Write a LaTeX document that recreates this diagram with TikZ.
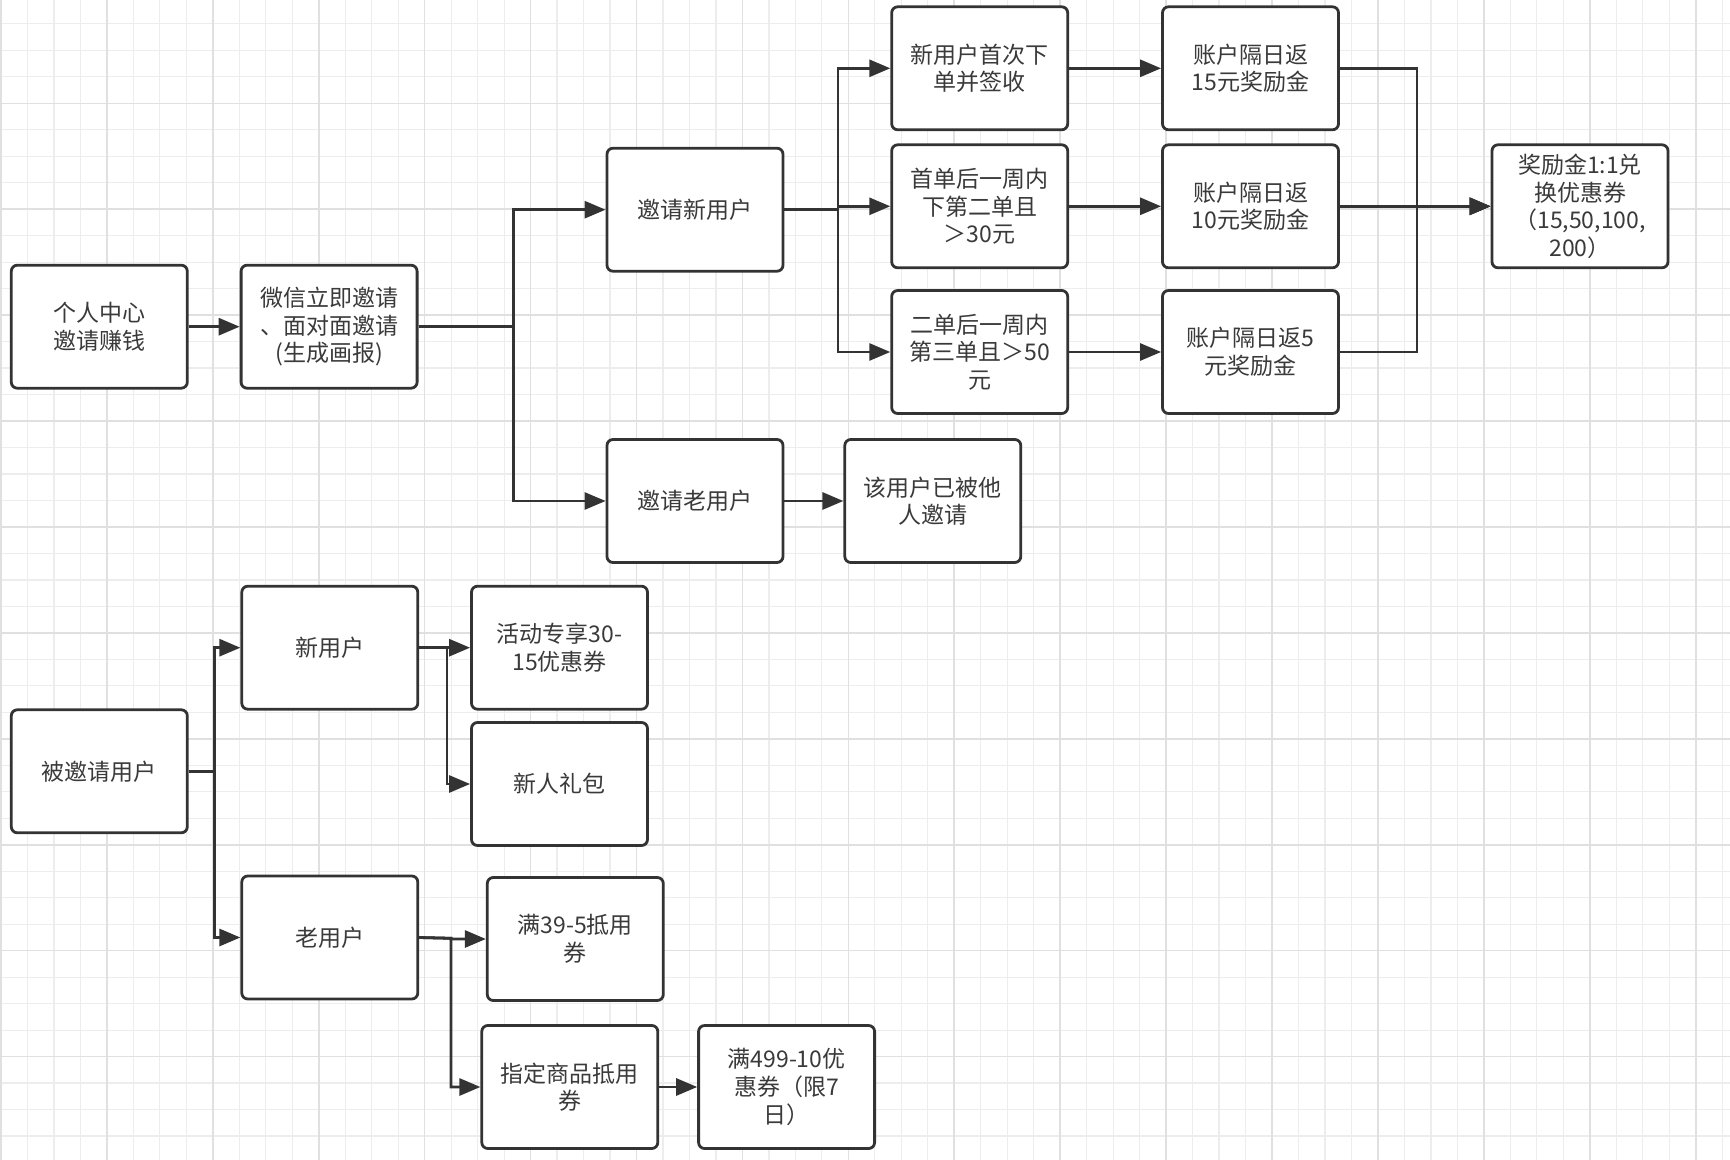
\documentclass[tikz,border=0pt]{standalone}
\usepackage{fontspec}
\setmainfont{Noto Sans CJK SC}
\usepackage{xcolor}
\usepackage{tikz}
\usetikzlibrary{arrows.meta, positioning}
\definecolor{linegray}{HTML}{333333}
\definecolor{textgray}{HTML}{3A3A3A}

\begin{document}
\begin{tikzpicture}[
    x=0.5pt, y=-0.5pt,
    box/.style={rectangle, draw=linegray, line width=1.4pt, rounded corners=3pt, fill=white, minimum width=88pt, minimum height=61.5pt, align=center, text=textgray, font=\fontsize{11.5}{13.8}\selectfont, inner sep=2pt},
    arrow/.style={-{Triangle[length=10.5pt, width=8.5pt]}, line width=1.4pt, draw=linegray},
    minorgrid/.style={draw=black!7, line width=0.6pt},
    majorgrid/.style={draw=black!12, line width=0.8pt}
]
    \useasboundingbox[fill=white] (0,0) rectangle (1730,1160);

    % Background grid
    \foreach \i in {0,...,65} \draw[minorgrid] ({1+26.48*\i},0) -- ({1+26.48*\i},1160);
    \foreach \j in {-1,...,43} \draw[minorgrid] (0,{23.86+26.48*\j}) -- (1730,{23.86+26.48*\j});
    \foreach \i in {0,...,16} \draw[majorgrid] ({1+105.92*\i},0) -- ({1+105.92*\i},1160);
    \foreach \j in {1,...,11} \draw[majorgrid] (0,{-2.6+105.92*\j}) -- (1730,{-2.6+105.92*\j});

    % Inviter: entry
    \node[box] (geren) at (99.3,326.7) {个人中心\\邀请赚钱};
    \node[box, right=25.5pt of geren] (weixin) {微信立即邀请\\、面对面邀请\\(生成画报)};

    % Inviter: new or old user
    \node[box] (yqnew) at (695,209.7) {邀请新用户};
    \node[box] (yqold) at (695,501) {邀请老用户};
    \node[box, right=29.5pt of yqold] (yiyaoqing) {该用户已被他\\人邀请};

    % Inviter: order steps
    \node[box] (shoudan) at (979.7,68.3) {新用户首次下\\单并签收};
    \node[box] (erdan) at (979.7,206.3) {首单后一周内\\下第二单且\\＞30元};
    \node[box] (sandan) at (979.7,352) {二单后一周内\\第三单且＞50\\元};

    % Inviter: rewards
    \node[box, right=46pt of shoudan] (fan15) {账户隔日返\\15元奖励金};
    \node[box, right=46pt of erdan] (fan10) {账户隔日返\\10元奖励金};
    \node[box, right=46pt of sandan] (fan5) {账户隔日返5\\元奖励金};
    \node[box] (duihuan) at (1580,206.3) {奖励金1:1兑\\换优惠券\\（15,50,100,\\200）};

    % Invited user
    \node[box] (beiyq) at (99.3,771.3) {被邀请用户};
    \node[box] (xinyh) at (329.8,647.7) {新用户};
    \node[box] (laoyh) at (329.8,937.5) {老用户};
    \node[box] (quan30) at (559.5,647.7) {活动专享30-\\15优惠券};
    \node[box] (libao) at (559.5,784) {新人礼包};
    \node[box] (quan39) at (575.3,939) {满39-5抵用\\券};
    \node[box] (zhiding) at (569.8,1087) {指定商品抵用\\券};
    \node[box, right=19pt of zhiding] (quan499) {满499-10优\\惠券（限7\\日）};

    % Junction points
    \coordinate (fork1) at (513.5,326.7);
    \coordinate (fork2) at (838,209.7);
    \coordinate (merge) at (1417,206.3);
    \coordinate (fork3) at (214.5,771.3);
    \coordinate (fork4) at (447,647.7);
    \coordinate (fork5) at (451,938.3);

    % Inviter arrows
    \draw[arrow] (geren) -- (weixin);
    \draw[arrow] (weixin.east) -- (fork1) |- (yqnew.west);
    \draw[arrow] (weixin.east) -- (fork1) |- (yqold.west);
    \draw[arrow] (yqold) -- (yiyaoqing);
    \draw[arrow] (yqnew.east) -- (fork2) |- (shoudan.west);
    \draw[arrow] (yqnew.east) -- (fork2) |- (erdan.west);
    \draw[arrow] (yqnew.east) -- (fork2) |- (sandan.west);
    \draw[arrow] (shoudan) -- (fan15);
    \draw[arrow] (erdan) -- (fan10);
    \draw[arrow] (sandan) -- (fan5);
    \draw[arrow] (fan15.east) -| (merge) -- (duihuan.west);
    \draw[arrow] (fan10.east) -- (merge) -- (duihuan.west);
    \draw[arrow] (fan5.east) -| (merge) -- (duihuan.west);

    % Invited user arrows
    \draw[arrow] (beiyq.east) -- (fork3) |- (xinyh.west);
    \draw[arrow] (beiyq.east) -- (fork3) |- (laoyh.west);
    \draw[arrow] (xinyh.east) -- (fork4) |- (quan30.west);
    \draw[arrow] (xinyh.east) -- (fork4) |- (libao.west);
    \draw[arrow] (laoyh.east) -- (fork5) |- (quan39.west);
    \draw[arrow] (laoyh.east) -- (fork5) |- (zhiding.west);
    \draw[arrow] (zhiding) -- (quan499);
\end{tikzpicture}
\end{document}
